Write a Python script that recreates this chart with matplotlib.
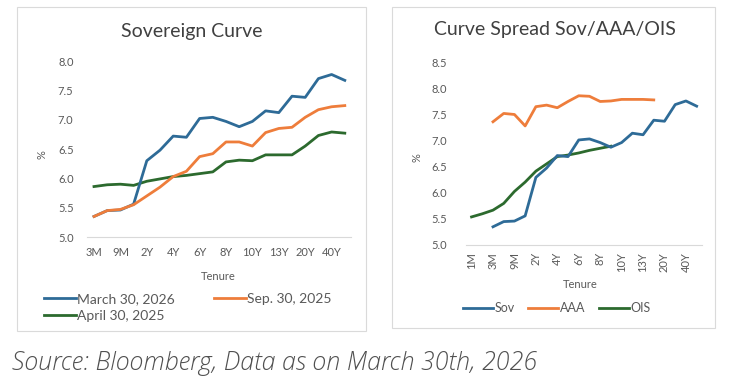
import numpy as np
import matplotlib
matplotlib.use("Agg")
import matplotlib.pyplot as plt
from matplotlib.patches import Rectangle

# ---------------- data ----------------
cats_left = ['3M', '6M', '9M', '1Y', '2Y', '3Y', '4Y', '5Y', '6Y', '7Y', '8Y', '9Y',
             '10Y', '12Y', '13Y', '15Y', '20Y', '30Y', '40Y', '50Y']
march_2026 = [5.35, 5.45, 5.46, 5.56, 6.30, 6.48, 6.72, 6.70, 7.02, 7.04, 6.97, 6.88,
              6.97, 7.15, 7.12, 7.40, 7.38, 7.70, 7.77, 7.67]
sep_2025 = [5.35, 5.45, 5.47, 5.55, 5.70, 5.85, 6.03, 6.12, 6.37, 6.42, 6.62, 6.62,
            6.55, 6.78, 6.85, 6.87, 7.04, 7.17, 7.22, 7.24]
apr_2025 = [5.86, 5.89, 5.90, 5.88, 5.95, 5.99, 6.03, 6.05, 6.08, 6.11, 6.28, 6.31,
            6.30, 6.40, 6.40, 6.40, 6.55, 6.73, 6.79, 6.77]

cats_right = ['1M', '2M', '3M', '6M', '9M', '1Y', '2Y', '3Y', '4Y', '5Y', '6Y', '7Y',
              '8Y', '9Y', '10Y', '12Y', '13Y', '15Y', '20Y', '30Y', '40Y', '50Y']
sov = [None, None, 5.35, 5.45, 5.46, 5.56, 6.30, 6.48, 6.72, 6.70, 7.02, 7.04, 6.97,
       6.88, 6.97, 7.15, 7.12, 7.40, 7.38, 7.70, 7.77, 7.67]
aaa = [None, None, 7.37, 7.53, 7.51, 7.29, 7.66, 7.69, 7.64, 7.76, 7.87, 7.86, 7.76,
       7.77, 7.80, 7.80, 7.80, 7.79, None, None, None, None]
ois = [5.54, 5.60, 5.67, 5.80, 6.03, 6.21, 6.42, 6.56, 6.70, 6.73, 6.77, 6.82, 6.86,
       6.90, None, None, None, None, None, None, None, None]

# ---------------- style ----------------
W, H = 735, 385
BLUE = '#2E6B97'
ORANGE = '#EE7D3B'
GREEN = '#2C6A2E'
TXT = '#404040'
TICK = '#595959'
FONT = 'Lato'

fig = plt.figure(figsize=(W / 100, H / 100), dpi=100)


def fx(px):
    return px / W


def fy(py):
    return 1 - py / H


# panel frames
for (x0, y0, x1, y1) in [(17, 7, 366, 331), (392, 7, 715, 328)]:
    fig.patches.append(Rectangle((fx(x0), fy(y1)), fx(x1) - fx(x0), fy(y0) - fy(y1),
                                 transform=fig.transFigure, fill=False,
                                 edgecolor='#DADADA', linewidth=0.8))


def to_arr(v):
    return np.array([np.nan if a is None else a for a in v], dtype=float)


def style_ax(ax):
    for s in ['top', 'right', 'left']:
        ax.spines[s].set_visible(False)
    ax.spines['bottom'].set_color('#D9D9D9')
    ax.spines['bottom'].set_linewidth(0.8)
    ax.tick_params(length=0, colors=TICK, labelsize=8)
    for lab in ax.get_xticklabels() + ax.get_yticklabels():
        lab.set_fontfamily(FONT)
    ax.set_facecolor('none')


# ---------------- left chart ----------------
axL = fig.add_axes([fx(87.4), fy(237), fx(351.4) - fx(87.4), fy(61) - fy(237)])
xl = np.arange(len(cats_left))
lw = 2.0
l1, = axL.plot(xl, march_2026, color=BLUE, lw=lw, label='March 30, 2026', zorder=3)
l3, = axL.plot(xl, apr_2025, color=GREEN, lw=lw, label='April 30, 2025', zorder=2)
l2, = axL.plot(xl, sep_2025, color=ORANGE, lw=lw, label='Sep. 30, 2025', zorder=4)
axL.set_xlim(-0.5, len(cats_left) - 0.5)
axL.set_ylim(5.0, 8.0)
axL.set_yticks(np.arange(5.0, 8.01, 0.5))
axL.set_yticklabels([f'{v:.1f}' for v in np.arange(5.0, 8.01, 0.5)])
axL.set_xticks(xl[::2])
axL.set_xticklabels(cats_left[::2])
style_ax(axL)
axL.tick_params(axis='x', pad=7)
axL.tick_params(axis='y', pad=10)

fig.text(fx(192), fy(31), 'Sovereign Curve', ha='center', va='center',
         fontsize=14, color=TXT, family=FONT)
fig.text(fx(42), fy(155), '%', ha='center', va='center', rotation=90,
         fontsize=8, color=TICK, family=FONT)
fig.text(fx(218), fy(276), 'Tenure', ha='center', va='center',
         fontsize=8, color=TICK, family=FONT)

legL = fig.legend(handles=[l1, l3, l2], loc='upper left', ncol=2,
                  bbox_to_anchor=(fx(44), fy(293)), frameon=False,
                  prop={'family': FONT, 'size': 10}, handlelength=2.3,
                  handletextpad=0.1, columnspacing=2.8, labelspacing=0.35,
                  borderpad=0, borderaxespad=0, labelcolor=TICK)

# ---------------- right chart ----------------
axR = fig.add_axes([fx(466.2), fy(245), fx(702) - fx(466.2), fy(63) - fy(245)])
xr = np.arange(len(cats_right))
r1, = axR.plot(xr, to_arr(sov), color=BLUE, lw=lw, label='Sov', zorder=3)
r2, = axR.plot(xr, to_arr(aaa), color=ORANGE, lw=lw, label='AAA', zorder=3)
r3, = axR.plot(xr, to_arr(ois), color=GREEN, lw=lw, label='OIS', zorder=2)
axR.set_xlim(-0.5, len(cats_right) - 0.5)
axR.set_ylim(5.0, 8.5)
axR.set_yticks(np.arange(5.0, 8.51, 0.5))
axR.set_yticklabels([f'{v:.1f}' for v in np.arange(5.0, 8.51, 0.5)])
axR.set_xticks(xr[::2])
axR.set_xticklabels(cats_right[::2], rotation=90)
style_ax(axR)
axR.tick_params(axis='x', pad=5)
axR.tick_params(axis='y', pad=14)

fig.text(fx(555), fy(30), 'Curve Spread Sov/AAA/OIS', ha='center', va='center',
         fontsize=14, color=TXT, family=FONT)
fig.text(fx(417), fy(158), '%', ha='center', va='center', rotation=90,
         fontsize=8, color=TICK, family=FONT)
fig.text(fx(580), fy(284), 'Tenure', ha='center', va='center',
         fontsize=8, color=TICK, family=FONT)

legR = fig.legend(handles=[r1, r2, r3], loc='center left', ncol=3,
                  bbox_to_anchor=(fx(463), fy(308)), frameon=False,
                  prop={'family': FONT, 'size': 9}, handlelength=2.4,
                  handletextpad=0.1, columnspacing=1.1,
                  borderpad=0, borderaxespad=0, labelcolor=TICK)

# ---------------- source ----------------
fig.text(fx(12), fy(363), 'Source: Bloomberg, Data as on March 30th, 2026',
         ha='left', va='center', fontsize=18, color='#505050',
         family='Open Sans', style='italic', weight='light')

fig.savefig('out.png', dpi=100)
